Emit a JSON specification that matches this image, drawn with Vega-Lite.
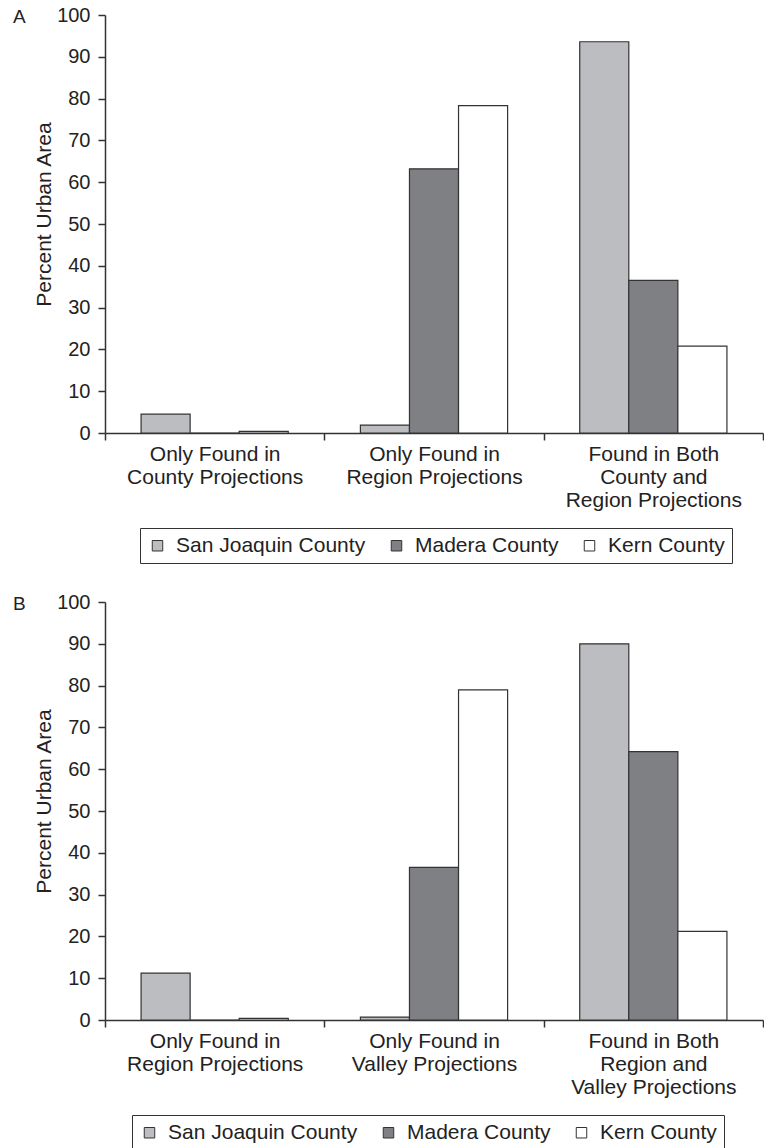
{
  "$schema": "https://vega.github.io/schema/vega-lite/v6.json",
  "background": "white",
  "padding": {"left": 13, "top": 5, "right": 0, "bottom": 0},
  "datasets": {
    "a": [
      {"category": "Only Found in|County Projections", "county": "San Joaquin County", "value": 4.5},
      {"category": "Only Found in|County Projections", "county": "Madera County", "value": 0},
      {"category": "Only Found in|County Projections", "county": "Kern County", "value": 0.4},
      {"category": "Only Found in|Region Projections", "county": "San Joaquin County", "value": 1.9},
      {"category": "Only Found in|Region Projections", "county": "Madera County", "value": 63.2},
      {"category": "Only Found in|Region Projections", "county": "Kern County", "value": 78.3},
      {"category": "Found in Both|County and|Region Projections", "county": "San Joaquin County", "value": 93.6},
      {"category": "Found in Both|County and|Region Projections", "county": "Madera County", "value": 36.5},
      {"category": "Found in Both|County and|Region Projections", "county": "Kern County", "value": 20.8}
    ],
    "b": [
      {"category": "Only Found in|Region Projections", "county": "San Joaquin County", "value": 11.2},
      {"category": "Only Found in|Region Projections", "county": "Madera County", "value": 0},
      {"category": "Only Found in|Region Projections", "county": "Kern County", "value": 0.4},
      {"category": "Only Found in|Valley Projections", "county": "San Joaquin County", "value": 0.7},
      {"category": "Only Found in|Valley Projections", "county": "Madera County", "value": 36.5},
      {"category": "Only Found in|Valley Projections", "county": "Kern County", "value": 79.0},
      {"category": "Found in Both|Region and|Valley Projections", "county": "San Joaquin County", "value": 90.0},
      {"category": "Found in Both|Region and|Valley Projections", "county": "Madera County", "value": 64.2},
      {"category": "Found in Both|Region and|Valley Projections", "county": "Kern County", "value": 21.2}
    ]
  },
  "config": {
    "font": "Liberation Sans",
    "view": {"stroke": null},
    "concat": {"spacing": 28},
    "axis": {
      "domainColor": "#333333",
      "domainWidth": 1.5,
      "tickColor": "#333333",
      "tickWidth": 1.5,
      "labelColor": "#222222",
      "titleColor": "#222222",
      "grid": false,
      "labelFont": "Liberation Sans",
      "titleFont": "Liberation Sans"
    },
    "legend": {
      "strokeColor": "#333333",
      "fillColor": "white",
      "padding": 7,
      "labelFont": "Liberation Sans",
      "labelFontSize": 21,
      "labelColor": "#222222",
      "labelOffset": 8,
      "labelLimit": 400,
      "symbolType": "square",
      "symbolSize": 110,
      "symbolStrokeColor": "#333333",
      "symbolStrokeWidth": 1
    }
  },
  "resolve": {"legend": {"color": "independent"}},
  "vconcat": [
    {
      "width": 658,
      "height": 418,
      "title": {"text": "A", "anchor": "start", "frame": "group", "dx": -92, "dy": 22, "offset": 0, "fontSize": 19, "fontWeight": "normal", "font": "Liberation Sans", "color": "#222222"},
      "data": {"name": "a"},
      "mark": {"type": "bar", "stroke": "#333333", "strokeWidth": 1.2},
      "encoding": {
        "x": {
          "field": "category", "type": "nominal", "sort": null,
          "scale": {"paddingInner": 0, "paddingOuter": 0},
          "axis": {"title": null, "labelAngle": 0, "labelExpr": "split(datum.label, '|')", "tickBand": "extent", "labelFontSize": 21, "labelLineHeight": 23, "tickSize": 7, "labelPadding": 3, "labelLimit": 300}
        },
        "xOffset": {
          "field": "county", "type": "nominal",
          "sort": ["San Joaquin County", "Madera County", "Kern County"],
          "scale": {"paddingInner": 0, "paddingOuter": 0.735}
        },
        "y": {
          "field": "value", "type": "quantitative",
          "scale": {"domain": [0, 100], "nice": false},
          "axis": {"title": "Percent Urban Area", "values": [0, 10, 20, 30, 40, 50, 60, 70, 80, 90, 100], "tickSize": 7, "labelPadding": 8, "labelFontSize": 20, "titleFontSize": 21, "titleFontWeight": "normal", "titlePadding": 2, "titleY": 199}
        },
        "color": {
          "field": "county", "type": "nominal",
          "sort": ["San Joaquin County", "Madera County", "Kern County"],
          "scale": {"domain": ["San Joaquin County", "Madera County", "Kern County"], "range": ["#bcbdc1", "#7f8084", "#ffffff"]},
          "legend": {"title": null, "orient": "none", "legendX": 35, "legendY": 513, "direction": "horizontal", "columns": 3, "columnPadding": 20}
        }
      }
    },
    {
      "width": 658,
      "height": 418,
      "title": {"text": "B", "anchor": "start", "frame": "group", "dx": -92, "dy": 22, "offset": 0, "fontSize": 19, "fontWeight": "normal", "font": "Liberation Sans", "color": "#222222"},
      "data": {"name": "b"},
      "mark": {"type": "bar", "stroke": "#333333", "strokeWidth": 1.2},
      "encoding": {
        "x": {
          "field": "category", "type": "nominal", "sort": null,
          "scale": {"paddingInner": 0, "paddingOuter": 0},
          "axis": {"title": null, "labelAngle": 0, "labelExpr": "split(datum.label, '|')", "tickBand": "extent", "labelFontSize": 21, "labelLineHeight": 23, "tickSize": 7, "labelPadding": 3, "labelLimit": 300}
        },
        "xOffset": {
          "field": "county", "type": "nominal",
          "sort": ["San Joaquin County", "Madera County", "Kern County"],
          "scale": {"paddingInner": 0, "paddingOuter": 0.735}
        },
        "y": {
          "field": "value", "type": "quantitative",
          "scale": {"domain": [0, 100], "nice": false},
          "axis": {"title": "Percent Urban Area", "values": [0, 10, 20, 30, 40, 50, 60, 70, 80, 90, 100], "tickSize": 7, "labelPadding": 8, "labelFontSize": 20, "titleFontSize": 21, "titleFontWeight": "normal", "titlePadding": 2, "titleY": 199}
        },
        "color": {
          "field": "county", "type": "nominal",
          "sort": ["San Joaquin County", "Madera County", "Kern County"],
          "scale": {"domain": ["San Joaquin County", "Madera County", "Kern County"], "range": ["#bcbdc1", "#7f8084", "#ffffff"]},
          "legend": {"title": null, "orient": "none", "legendX": 27, "legendY": 513, "direction": "horizontal", "columns": 3, "columnPadding": 20}
        }
      }
    }
  ]
}
